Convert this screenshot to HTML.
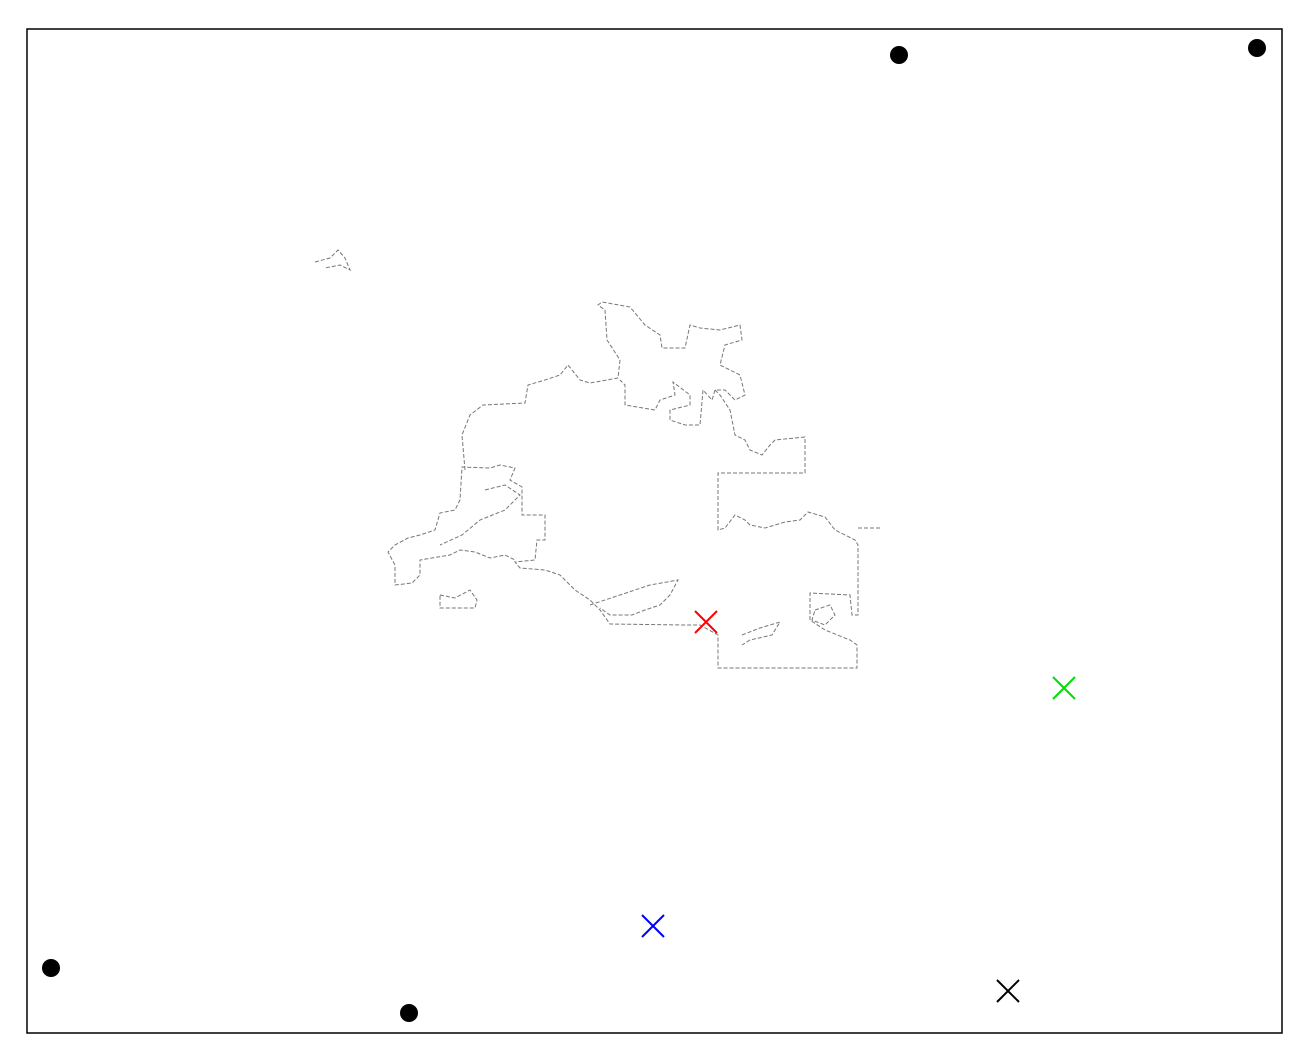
<!DOCTYPE html>
<html><head><meta charset="utf-8"><style>
html,body{margin:0;padding:0;background:#fff;}
svg{display:block;font-family:"Liberation Sans",sans-serif;}
</style></head><body>
<svg id="chart" width="1309" height="1062" viewBox="0 0 1309 1062">
<rect x="27" y="29" width="1255" height="1004" fill="#fff" stroke="#000" stroke-width="1.5"/>
<g fill="none" stroke="#777" stroke-width="1" stroke-dasharray="4,2">
<path d="M465,470 L462,435 L470,415 L483,405 L525,403 L528,385 L545,380 L560,375 L568,365 L580,380 L590,383 L618,378 L620,360 L607,340 L605,310 L598,305 L602,302 L630,307 L645,325 L660,335 L662,348 L685,348 L690,325 L700,328 L720,330 L740,325 L742,340 L725,345 L720,365 L740,375 L745,395 L735,400 L725,390 L715,390 L712,400 L703,390 L700,425 L685,425 L670,420 L670,410 L690,405 L690,395 L673,382 L675,395 L660,400 L655,410 L625,405 L625,385 L620,380 M715,390 L720,395 L730,410 L735,435 L745,440 L750,450 L762,455 L770,445 L775,440 L805,437 L805,473 L718,473 L718,530 L725,528 L735,515 L745,520 L750,525 L765,528 L785,522 L800,520 L808,512 L825,517 L835,530 L855,540 L858,545 L858,615 L852,615 L850,595 L810,593 L810,620 L825,630 L850,640 L857,645 L857,668 L718,668 L718,635 L700,625 L685,625 L610,624 L600,610 L590,600 L575,590 L560,575 L545,570 L520,568 L515,562 L535,560 L537,540 L545,540 L545,515 L522,515 L522,487 L510,480 L515,468 L500,465 L490,468 L462,467 L460,500 L455,510 L440,513 L435,530 L420,535 L408,538 L395,545 L388,552 L395,565 L395,585 L412,583 L420,575 L420,560 L450,555 L460,550 L475,552 L490,558 L505,555 L515,560 M858,528 L882,528"/>
<path d="M590,605 L620,595 L650,585 L678,580 L670,595 L660,605 L645,610 L632,615 L610,615 L600,608"/>
<path d="M440,595 L455,598 L470,590 L477,600 L475,608 L440,608 Z"/>
<path d="M815,610 L830,605 L835,615 L825,625 L812,620 Z"/>
<path d="M742,635 L760,628 L780,622 L772,635 L750,640 L742,645"/>
<path d="M315,262 L330,258 L338,250 L345,258 L350,270 L340,265 L325,268"/>
<path d="M485,490 L505,485 L520,495 L505,510 L480,520 L462,535 L440,545"/>
</g>
<g id="marks"></g>
</svg>
<script>
const dotX = [872, 1230, 24, 382];
const dotY = [26, 19, 939, 984];
const crossX = [679, 1037, 626, 981];
const crossY = [593, 659, 897, 962];
const crossColor = ['#ff0000', '#00dd00', '#0000ff', '#000000'];
const x0 = 27, y0 = 29;
function sx(v){ return x0 + v; }
function sy(v){ return y0 + v; }
const ns = 'http://www.w3.org/2000/svg';
const g = document.getElementById('marks');
for (let i = 0; i < dotX.length; i++) {
  const c = document.createElementNS(ns, 'circle');
  c.setAttribute('cx', sx(dotX[i])); c.setAttribute('cy', sy(dotY[i]));
  c.setAttribute('r', 9); c.setAttribute('fill', '#000');
  
  
  g.appendChild(c);
}
for (let i = 0; i < crossX.length; i++) {
  const cx = sx(crossX[i]), cy = sy(crossY[i]), s = 11;
  const p = document.createElementNS(ns, 'path');
  p.setAttribute('d', `M${cx-s},${cy-s}L${cx+s},${cy+s}M${cx-s},${cy+s}L${cx+s},${cy-s}`);
  p.setAttribute('stroke', crossColor[i]); p.setAttribute('stroke-width', 2); p.setAttribute('fill', 'none');
  
  
  g.appendChild(p);
}
</script>
</body></html>
